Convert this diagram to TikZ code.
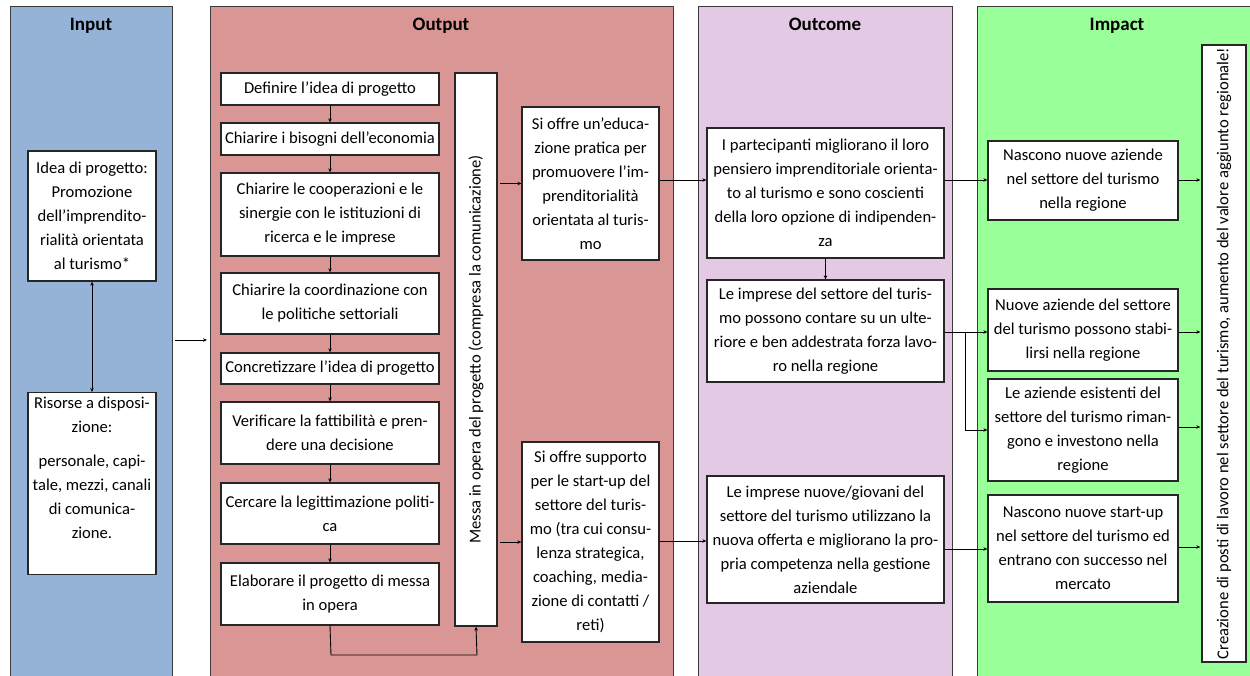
\documentclass[tikz,border=0pt]{standalone}
\usepackage{fontspec}
\setmainfont{Carlito}
\usetikzlibrary{arrows.meta}
\definecolor{inblue}{HTML}{95B3D7}
\definecolor{outred}{HTML}{D99694}
\definecolor{outlilac}{HTML}{E4C9E4}
\definecolor{impgreen}{HTML}{99FF99}
\definecolor{colframe}{HTML}{3A3A3A}
\tikzset{
  column/.style={draw=colframe, line width=1.4pt, anchor=north west, inner sep=0pt},
  coltitle/.style={font=\fontsize{19}{22}\selectfont\bfseries, anchor=base},
  box/.style={draw=black!85, line width=1.3pt, fill=white, align=center, inner sep=0pt,
    font=\fontsize{16.6}{24}\selectfont},
  vbar/.style={box, rotate=90},
  arr/.style={-{Stealth[length=4pt,width=3.5pt]}, line width=0.9pt},
  darr/.style={{Stealth[length=4pt,width=3.5pt]}-{Stealth[length=4pt,width=3.5pt]}, line width=0.9pt}
}
\begin{document}
\begin{tikzpicture}[x=1pt,y=-1pt]
\useasboundingbox (0,0) rectangle (1250,675);

% the four columns
\node[column, fill=inblue,   minimum width=162pt, minimum height=690pt] (incol)  at (10,6) {};
\node[column, fill=outred,   minimum width=463pt, minimum height=690pt] (outcol) at (210,6) {};
\node[column, fill=outlilac, minimum width=254pt, minimum height=690pt] (oucol)  at (698,6) {};
\node[column, fill=impgreen, minimum width=300pt, minimum height=690pt] (impcol) at (977,6) {};
\node[coltitle] (tin)  at (91,30)   {Input};
\node[coltitle] (tout) at (441,30)  {Output};
\node[coltitle] (tou)  at (825,30)  {Outcome};
\node[coltitle] (timp) at (1117,30) {Impact};

% input
\node[box, minimum width=128pt, minimum height=130pt] (idea) at (92,216)
  {Idea di progetto:\\Promozione\\dell’imprendito-\\rialità orientata\\al turismo*};
\node[box, minimum width=128pt, minimum height=182pt, anchor=north] (ris) at (92,392) {};
\node[box, draw=none, anchor=north, inner sep=0pt] (ristext) at (92,396)
  {Risorse a disposi-\\zione:\\[10pt]personale, capi-\\tale, mezzi, canali\\di comunica-\\zione.};
\draw[darr] (idea.south) -- (ris.north);

% output: project steps
\node[box, minimum width=218pt, minimum height=32pt] (s1) at (330,89)  {Definire l’idea di progetto};
\node[box, minimum width=218pt, minimum height=32pt] (s2) at (330,139) {Chiarire i bisogni dell’economia};
\node[box, minimum width=218pt, minimum height=83pt] (s3) at (330,214.5)
  {Chiarire le cooperazioni e le\\sinergie con le istituzioni di\\ricerca e le imprese};
\node[box, minimum width=218pt, minimum height=61pt] (s4) at (330,303.5)
  {Chiarire la coordinazione con\\le politiche settoriali};
\node[box, minimum width=218pt, minimum height=31pt] (s5) at (330,368.5) {Concretizzare l’idea di progetto};
\node[box, minimum width=218pt, minimum height=62pt] (s6) at (330,433)
  {Verificare la fattibilità e pren-\\dere una decisione};
\node[box, minimum width=218pt, minimum height=61pt] (s7) at (330,513.5)
  {Cercare la legittimazione politi-\\ca};
\node[box, minimum width=218pt, minimum height=62pt] (s8) at (330,594)
  {Elaborare il progetto di messa\\in opera};
\foreach \a/\b in {s1/s2,s2/s3,s3/s4,s4/s5,s5/s6,s6/s7,s7/s8}
  \draw[arr] (\a.south) -- (\b.north);

\node[vbar, minimum width=553pt, minimum height=42pt] (impl) at (476,349.5)
  {Messa in opera del progetto (compresa la comunicazione)};
\coordinate (loopa) at (331,655);
\coordinate (loopb) at (477,655);
\draw[arr] (s8.south) -- (loopa) -- (loopb) -- (impl.west);

\node[box, minimum width=137pt, minimum height=153pt] (edu) at (590.5,183.5)
  {Si offre un’educa-\\zione pratica per\\promuovere l’im-\\prenditorialità\\orientata al turis-\\mo};
\node[box, minimum width=137pt, minimum height=200pt] (sup) at (590.5,542)
  {Si offre supporto\\per le start-up del\\settore del turis-\\mo (tra cui consu-\\lenza strategica,\\coaching, media-\\zione di contatti /\\reti)};
\draw[arr] ([xshift=2pt]impl.south |- edu.west) -- (edu.west);
\draw[arr] ([xshift=2pt]impl.south |- sup.west) -- (sup.west);

% input to output
\coordinate (inout) at (175,340);
\draw[arr] (inout) -- ([xshift=-3pt]outcol.west |- inout);

% outcome
\node[box, minimum width=237pt, minimum height=130pt] (o1) at (825.5,193)
  {I partecipanti migliorano il loro\\pensiero imprenditoriale orienta-\\to al turismo e sono coscienti\\della loro opzione di indipenden-\\za};
\node[box, minimum width=237pt, minimum height=102pt] (o2) at (825.5,331)
  {Le imprese del settore del turis-\\mo possono contare su un ulte-\\riore e ben addestrata forza lavo-\\ro nella regione};
\node[box, minimum width=237pt, minimum height=127pt] (o3) at (825.5,539.5)
  {Le imprese nuove/giovani del\\settore del turismo utilizzano la\\nuova offerta e migliorano la pro-\\pria competenza nella gestione\\aziendale};
\draw[arr] (edu.east |- 0,180) -- (o1.west |- 0,180);
\draw[arr] (sup.east |- 0,541) -- (o3.west |- 0,541);
\draw[arr] (o1.south) -- (o2.north);

% impact
\node[box, minimum width=190pt, minimum height=79pt] (i1) at (1083,180.5)
  {Nascono nuove aziende\\nel settore del turismo\\nella regione};
\node[box, minimum width=190pt, minimum height=82pt] (i2) at (1083,330)
  {Nuove aziende del settore\\del turismo possono stabi-\\lirsi nella regione};
\node[box, minimum width=190pt, minimum height=102pt] (i3) at (1083,430)
  {Le aziende esistenti del\\settore del turismo riman-\\gono e investono nella\\regione};
\node[box, minimum width=190pt, minimum height=107pt] (i4) at (1083,548.5)
  {Nascono nuove start-up\\nel settore del turismo ed\\entrano con successo nel\\mercato};
\node[vbar, minimum width=617pt, minimum height=44pt] (jobs) at (1224,353.5)
  {Creazione di posti di lavoro nel settore del turismo, aumento del valore aggiunto regionale!};

\draw[arr] (o1.east |- 0,180) -- (i1.west |- 0,180);
\draw[arr] (o2.east |- 0,332) -- (i2.west |- 0,332);
\coordinate (fork) at (965,332);
\coordinate (forkdown) at (965,430);
\draw[arr] (fork) -- (forkdown) -- (i3.west |- forkdown);
\draw[arr] (o3.east |- 0,549) -- (i4.west |- 0,549);

\draw[arr] (i1.east |- 0,180) -- ([xshift=-1pt]jobs.north |- 0,180);
\draw[arr] (i2.east |- 0,332) -- ([xshift=-1pt]jobs.north |- 0,332);
\draw[arr] (i3.east |- 0,427) -- ([xshift=-1pt]jobs.north |- 0,427);
\draw[arr] (i4.east |- 0,547) -- ([xshift=-1pt]jobs.north |- 0,547);
\end{tikzpicture}
\end{document}
